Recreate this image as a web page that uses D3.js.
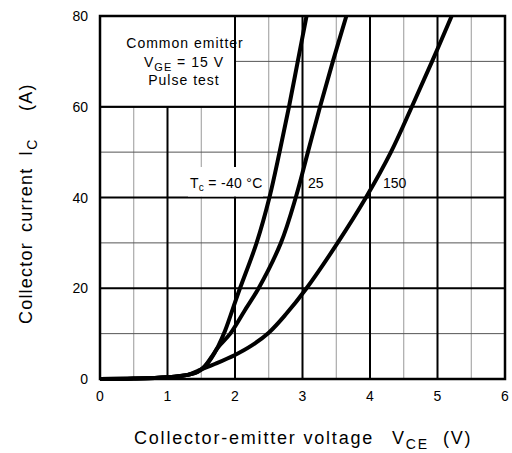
<!DOCTYPE html>
<html>
<head>
<meta charset="utf-8">
<script src="https://cdn.jsdelivr.net/npm/d3@7"></script>
<style>
  body { margin: 0; background: #fff; }
  text { font-family: "Liberation Sans", Arial, sans-serif; fill: #000; }
</style>
</head>
<body>
<script>
// collector-emitter voltage (V) vs collector current (A), one array per case temperature
var vceMinus40 = [0, 0.5, 1.0, 1.3, 1.45, 1.55, 1.65, 1.75, 1.85, 2.05, 2.32, 2.51, 2.66, 2.80, 2.93, 3.06];
var icMinus40  = [0, 0.1, 0.4, 0.9, 1.6, 2.7, 4.6, 7.2, 10.5, 19, 30, 40, 50, 60, 70, 80];

var vce25 = [0, 0.5, 1.0, 1.3, 1.45, 1.55, 1.65, 1.75, 1.93, 2.14, 2.35, 2.68, 2.90, 3.08, 3.26, 3.45, 3.65];
var ic25  = [0, 0.1, 0.4, 0.9, 1.6, 2.8, 4.8, 7.0, 10, 15, 20, 30, 40, 50, 60, 70, 80];

var vce150 = [0, 0.5, 1.0, 1.3, 1.5, 1.7, 2.0, 2.25, 2.5, 2.75, 3.06, 3.52, 3.94, 4.31, 4.62, 4.92, 5.21];
var ic150  = [0, 0.1, 0.4, 0.9, 2.1, 3.3, 5.3, 7.4, 10.2, 14.2, 20, 30, 40, 50, 60, 70, 80];

var xTicks = [0, 1, 2, 3, 4, 5, 6];
var yTicks = [0, 20, 40, 60, 80];
var xMinor = [0.5, 1.5, 2.5, 3.5, 4.5, 5.5];
var yMinor = [10, 30, 50, 70];

var width = 512, height = 453;
var svg = d3.select("body").append("svg")
    .attr("width", width)
    .attr("height", height);

var x = d3.scaleLinear().domain([0, 6]).range([100, 505]);
var y = d3.scaleLinear().domain([0, 80]).range([379, 16]);

// minor grid
svg.selectAll("line.xminor").data(xMinor).enter().append("line")
    .attr("x1", d => x(d)).attr("x2", d => x(d))
    .attr("y1", y(0)).attr("y2", y(80))
    .attr("stroke", "#999").attr("stroke-width", 1);
svg.selectAll("line.yminor").data(yMinor).enter().append("line")
    .attr("x1", x(0)).attr("x2", x(6))
    .attr("y1", d => y(d)).attr("y2", d => y(d))
    .attr("stroke", "#555").attr("stroke-width", 1);

// major grid
svg.selectAll("line.xmajor").data(xTicks).enter().append("line")
    .attr("x1", d => x(d)).attr("x2", d => x(d))
    .attr("y1", y(0)).attr("y2", y(80))
    .attr("stroke", "#000").attr("stroke-width", 2);
svg.selectAll("line.ymajor").data(yTicks).enter().append("line")
    .attr("x1", x(0)).attr("x2", x(6))
    .attr("y1", d => y(d)).attr("y2", d => y(d))
    .attr("stroke", "#000").attr("stroke-width", 2);

// condition box (top left)
svg.append("rect")
    .attr("x", x(0)).attr("y", y(80))
    .attr("width", x(2) - x(0)).attr("height", y(60) - y(80))
    .attr("fill", "#fff").attr("stroke", "#000").attr("stroke-width", 2);

// white patch behind the Tc label
svg.append("rect")
    .attr("x", 188).attr("y", 167)
    .attr("width", 75).attr("height", y(40) - 168)
    .attr("fill", "#fff");

// frame
svg.append("rect")
    .attr("x", x(0)).attr("y", y(80))
    .attr("width", x(6) - x(0)).attr("height", y(0) - y(80))
    .attr("fill", "none").attr("stroke", "#000").attr("stroke-width", 2.5);

// curves
var line = d3.line()
    .x(d => x(d[0]))
    .y(d => y(d[1]))
    .curve(d3.curveCatmullRom.alpha(0.5));

var series = [d3.zip(vceMinus40, icMinus40), d3.zip(vce25, ic25), d3.zip(vce150, ic150)];
svg.selectAll("path.curve").data(series).enter().append("path")
    .attr("d", line)
    .attr("fill", "none")
    .attr("stroke", "#000")
    .attr("stroke-width", 4)
    .attr("stroke-linejoin", "round");

// tick labels
svg.selectAll("text.xt").data(xTicks).enter().append("text")
    .attr("x", d => x(d)).attr("y", 401)
    .attr("text-anchor", "middle")
    .attr("font-size", 14)
    .text(d => d);
svg.selectAll("text.yt").data(yTicks).enter().append("text")
    .attr("x", 88).attr("y", d => y(d) + 5)
    .attr("text-anchor", "end")
    .attr("font-size", 14)
    .text(d => d);

// box text
var box = svg.append("g").attr("font-size", 14).attr("letter-spacing", 1).attr("text-anchor", "middle");
box.append("text").attr("x", 185).attr("y", 48).text("Common emitter");
box.append("text").attr("x", 184).attr("y", 67)
    .html('V<tspan font-size="11" dy="4">GE</tspan><tspan dy="-4"> = 15 V</tspan>');
box.append("text").attr("x", 184).attr("y", 85).text("Pulse test");

// curve labels
svg.append("text").attr("x", 190).attr("y", 188).attr("font-size", 14).attr("letter-spacing", 0.3)
    .html('T<tspan font-size="10" dy="3">c</tspan><tspan dy="-3"> = -40 °C</tspan>');
svg.append("text").attr("x", 308).attr("y", 188).attr("font-size", 14).text("25");
svg.append("text").attr("x", 383).attr("y", 188).attr("font-size", 14).text("150");

// axis titles
svg.append("text").attr("y", 444).attr("font-size", 18).attr("letter-spacing", 1.8)
    .html('<tspan x="134">Collector-emitter voltage</tspan>' +
          '<tspan x="392">V</tspan><tspan font-size="14" dy="5">CE</tspan>' +
          '<tspan x="443" dy="-5">(V)</tspan>');

svg.append("text")
    .attr("transform", "translate(32,0) rotate(-90)")
    .attr("font-size", 18).attr("letter-spacing", 1.2)
    .html('<tspan x="-324">Collector</tspan>' +
          '<tspan x="-232">current</tspan>' +
          '<tspan x="-156">I</tspan><tspan font-size="14" dy="5">C</tspan>' +
          '<tspan x="-111" dy="-5">(A)</tspan>');
</script>
</body>
</html>
